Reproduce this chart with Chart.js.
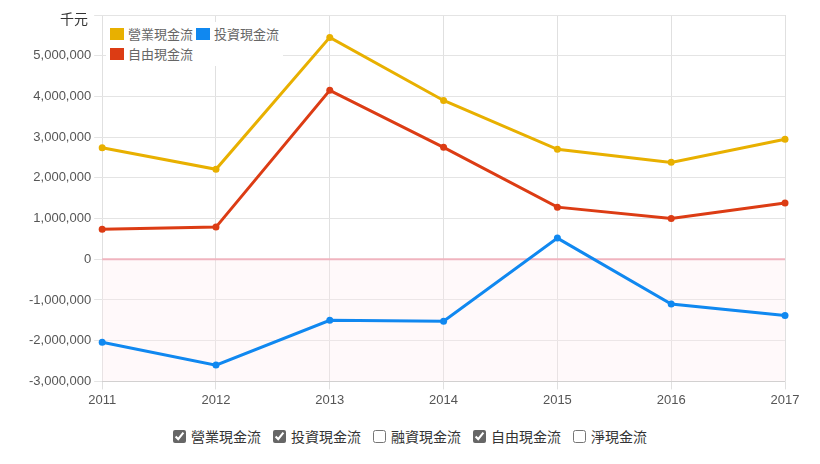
<!DOCTYPE html>
<html><head><meta charset="utf-8">
<script src="https://cdn.jsdelivr.net/npm/chart.js@4/dist/chart.umd.min.js"></script>
<style>
body{margin:0;background:#fff;font-family:"Noto Sans CJK TC",sans-serif;}
#wrap{position:relative;width:820px;height:464px;}
#c{position:absolute;left:0;top:0;}
#unit{position:absolute;left:60px;top:8px;font-size:14px;color:#333;}
#leg{position:absolute;left:106px;top:22px;background:#fff;font-size:13px;color:#666;padding:2px 4px;line-height:20px;}
#leg span.b{display:inline-block;width:14px;height:12px;margin-right:4px;vertical-align:-1px;}
#chk{position:absolute;top:426px;left:0;width:820px;text-align:center;font-size:14px;color:#333;}
#chk label{margin:0 6px;}
#chk input{margin:0 5px 0 0;vertical-align:-1px;accent-color:#666;}
</style></head><body>
<div id="wrap">
<canvas id="c" width="820" height="411"></canvas>
<div id="unit">千元</div>
<div id="leg"></div>
<div id="chk"></div>
</div>
<script>
// Cash flow chart
const years = ['2011','2012','2013','2014','2015','2016','2017'];
const operating = [2740000, 2210000, 5450000, 3900000, 2700000, 2380000, 2950000];
const investing = [-2040000, -2600000, -1500000, -1520000, 520000, -1100000, -1380000];
const freeCash = [740000, 790000, 4150000, 2750000, 1280000, 1000000, 1380000];
const seriesNames = ['營業現金流', '投資現金流', '自由現金流'];
const seriesColors = ['#e8b000', '#1088f0', '#dc3c14'];
const checkNames = ['營業現金流', '投資現金流', '融資現金流', '自由現金流', '淨現金流'];
const checkOn = [true, true, false, true, false];

// Shade the negative area and draw the zero line
const negShade = {
    id: 'negShade',
    beforeDatasetsDraw(chart) {
        const {ctx, chartArea, scales} = chart;
        const y0 = scales.y.getPixelForValue(0);
        ctx.save();
        ctx.fillStyle = 'rgba(255,235,240,0.3)';
        ctx.fillRect(chartArea.left, y0, chartArea.right - chartArea.left, chartArea.bottom - y0);
        ctx.strokeStyle = '#f0b4bf';
        ctx.lineWidth = 2;
        ctx.beginPath();
        ctx.moveTo(chartArea.left, y0);
        ctx.lineTo(chartArea.right, y0);
        ctx.stroke();
        ctx.restore();
    }
};

const mk = (i, d) => ({
    label: seriesNames[i], data: d,
    borderColor: seriesColors[i], backgroundColor: seriesColors[i],
    borderWidth: 3, pointRadius: 3.5, pointBorderWidth: 0, tension: 0
});

new Chart(document.getElementById('c'), {
    type: 'line',
    data: { labels: years, datasets: [mk(0, operating), mk(1, investing), mk(2, freeCash)] },
    options: {
        responsive: false, animation: false,
        layout: { padding: { top: 15, right: 35, left: 26 } },
        plugins: { legend: { display: false }, tooltip: { enabled: false } },
        scales: {
            x: {
                offset: false,
                grid: { color: '#e0e0e0' },
                ticks: { color: '#555', font: { size: 13, family: 'Arial' } }
            },
            y: {
                min: -3000000, max: 6000000,
                grid: { color: '#e4e4e4' },
                border: { display: false },
                ticks: {
                    stepSize: 1000000, color: '#555', font: { size: 13, family: 'Arial' },
                    callback: v => v >= 6000000 ? '' : v.toLocaleString('en-US')
                }
            }
        }
    },
    plugins: [negShade]
});

document.getElementById('leg').innerHTML =
    [0, 1].map(i => `<span class="b" style="background:${seriesColors[i]}"></span>${seriesNames[i]} `).join('') +
    `<br><span class="b" style="background:${seriesColors[2]}"></span>${seriesNames[2]}`;
document.getElementById('chk').innerHTML = checkNames.map((n, i) =>
    `<label><input type="checkbox" ${checkOn[i] ? 'checked' : ''}>${n}</label>`).join('');
</script>
</body></html>
